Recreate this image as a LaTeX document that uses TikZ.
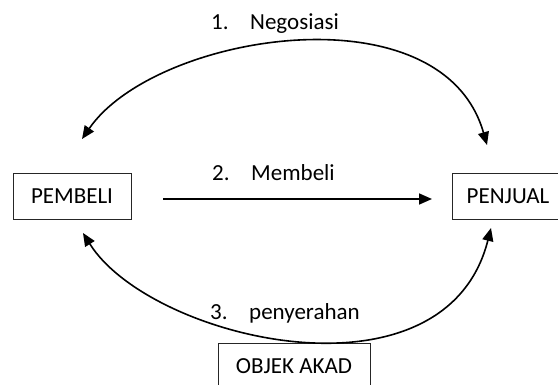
\documentclass[tikz,border=0pt]{standalone}
\usepackage{fontspec}
\setmainfont{Carlito}
\usetikzlibrary{arrows.meta}
\tikzset{
  box/.style={draw=black!85, line width=0.9pt, minimum height=46pt, inner sep=0pt, font=\fontsize{23}{27}\selectfont},
  lbl/.style={anchor=base west, inner sep=0pt, font=\fontsize{23}{27}\selectfont},
  arr/.style={line width=1.6pt, -{Triangle[length=13pt,width=11pt]}},
  arrb/.style={line width=1.6pt, {Triangle[length=13pt,width=11pt]}-{Triangle[length=13pt,width=11pt]}}
}
\newcommand{\numlab}[2]{\makebox[39pt][l]{#1}#2}
\begin{document}
\begin{tikzpicture}[x=1pt,y=-1pt]
\useasboundingbox (0,0) rectangle (558,385);
\node[box, minimum width=118pt] (pembeli) at (72,196) {PEMBELI};
\node[box, minimum width=112pt] (penjual) at (508,196) {PENJUAL};
\node[box, minimum width=152pt] (objek) at (294,366) {OBJEK AKAD};
\coordinate (m1) at (163,199);
\coordinate (m2) at (432,199);
\coordinate (n1l) at (82,139);
\coordinate (n1r) at (487,145);
\coordinate (n3l) at (83,233);
\coordinate (n3r) at (491,228);
\draw[arr] (m1) -- (m2);
\draw[arrb] (n1l) .. controls (155,33) and (442,-13) .. (n1r);
\draw[arrb] (n3l) .. controls (150,340) and (445,410) .. (n3r);
\node[lbl] (l1) at (211,30) {\numlab{1.}{Negosiasi}};
\node[lbl] (l2) at (212,181) {\numlab{2.}{Membeli}};
\node[lbl] (l3) at (210,320) {\numlab{3.}{penyerahan}};
\end{tikzpicture}
\end{document}
